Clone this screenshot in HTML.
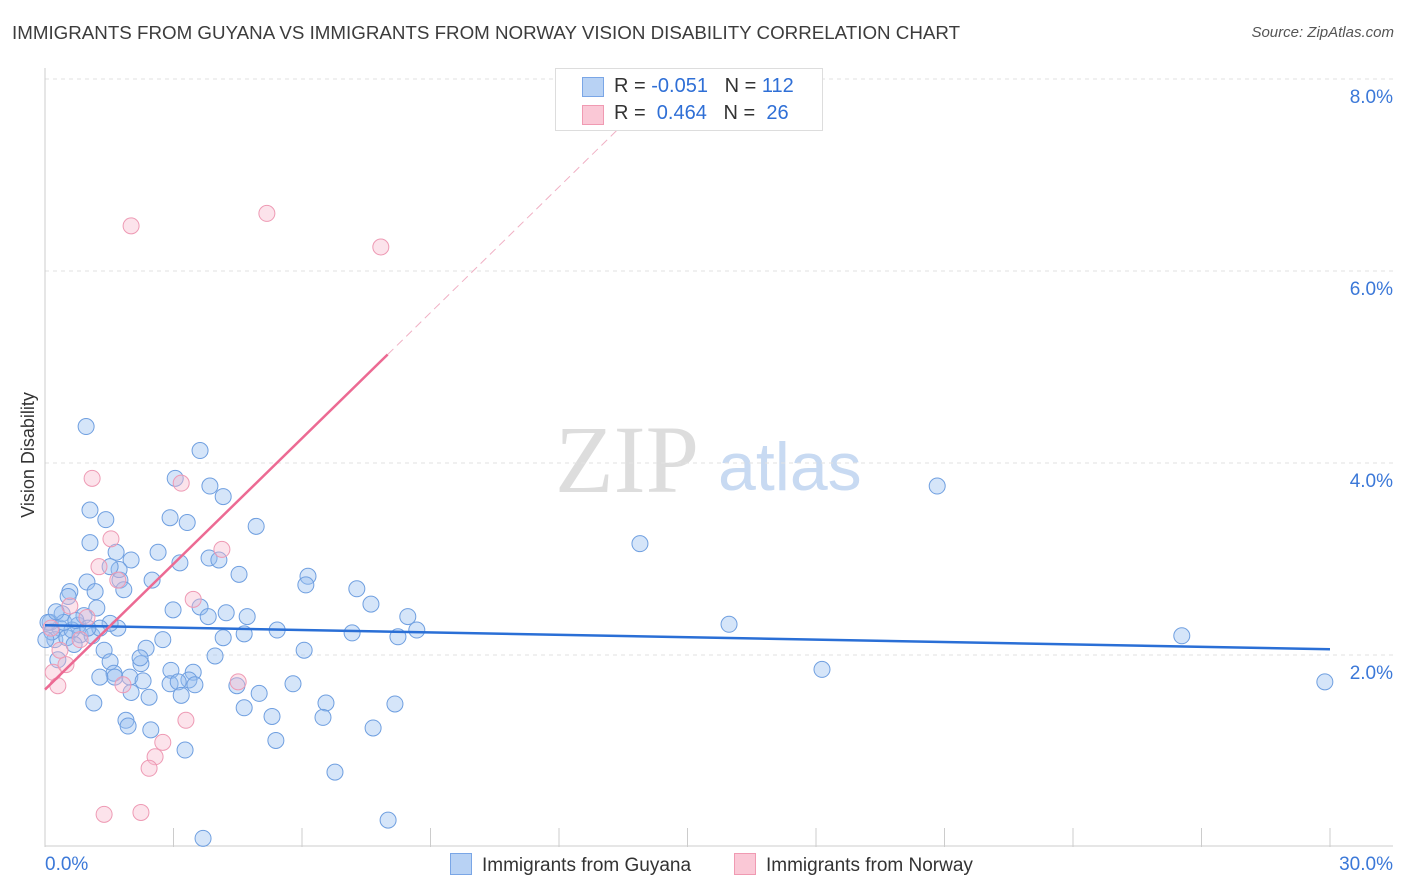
<!DOCTYPE html>
<html><head><meta charset="utf-8"><style>
body{margin:0;width:1406px;height:892px;background:#fff;font-family:"Liberation Sans",sans-serif;overflow:hidden;position:relative}
.t{position:absolute;white-space:nowrap}
</style></head><body>
<div class="t" style="left:12px;top:22px;font-size:18.75px;color:#3c3c3c">IMMIGRANTS FROM GUYANA VS IMMIGRANTS FROM NORWAY VISION DISABILITY CORRELATION CHART</div>
<div class="t" style="right:12px;top:24px;font-size:15px;color:#555;font-style:italic">Source: ZipAtlas.com</div>
<svg id="chart" width="1406" height="892" style="position:absolute;left:0;top:0">
<text x="555" y="492" font-size="96" fill="#ddd" font-family="Liberation Serif">ZIP</text>
<text x="718" y="490" font-size="68" fill="#c8daf2">atlas</text>
<text transform="translate(34,455) rotate(-90)" text-anchor="middle" font-size="18" fill="#333">Vision Disability</text>
<g id="grid"></g><g id="pts"></g><g id="trend"></g>
</svg>
<div class="t" style="left:555px;top:68px;width:266px;height:61px;border:1px solid #ddd;background:#fff;font-size:20px;color:#333">
<div style="position:absolute;left:26px;top:8px;width:20px;height:18px;background:#b8d2f4;border:1px solid #7aa6e6"></div>
<div style="position:absolute;left:58px;top:6px">R = <span style="color:#2f6fd6">-0.051</span>&nbsp;&nbsp;&nbsp;N = <span style="color:#2f6fd6">112</span></div>
<div style="position:absolute;left:26px;top:36px;width:20px;height:18px;background:#fac8d6;border:1px solid #f09ab2"></div>
<div style="position:absolute;left:58px;top:33px">R = &nbsp;<span style="color:#2f6fd6">0.464</span>&nbsp;&nbsp;&nbsp;N = &nbsp;<span style="color:#2f6fd6">26</span></div>
</div>
<div class="t" style="left:450px;top:853px;font-size:19px;color:#333"><span style="display:inline-block;width:20px;height:20px;background:#b8d2f4;border:1px solid #7aa6e6;vertical-align:-4px;margin-right:10px"></span>Immigrants from Guyana</div>
<div class="t" style="left:734px;top:853px;font-size:19px;color:#333"><span style="display:inline-block;width:20px;height:20px;background:#fac8d6;border:1px solid #f09ab2;vertical-align:-4px;margin-right:10px"></span>Immigrants from Norway</div>
<script>
const blueX=[],blueY=[],pinkX=[],pinkY=[];
const bluePx=[[86,427],[200,451],[90,510],[106,520],[175,478],[210,486],[223,497],[170,518],[187,523],[256,526],[90,543],[116,552],[131,560],[158,552],[209,558],[219,560],[180,563],[239,574],[152,580],[308,576],[306,585],[357,589],[371,604],[408,617],[417,630],[398,637],[352,633],[70,592],[87,582],[95,592],[97,608],[120,580],[124,590],[119,570],[110,567],[200,607],[208,617],[173,610],[226,613],[247,617],[244,634],[277,630],[223,638],[118,628],[110,623],[60,628],[50,622],[55,640],[67,638],[80,635],[78,625],[74,644],[104,650],[110,662],[114,673],[141,664],[146,648],[163,640],[140,658],[171,670],[193,672],[215,656],[304,650],[115,677],[130,677],[100,677],[143,681],[170,684],[189,680],[195,685],[178,682],[237,686],[259,693],[293,684],[131,692],[149,697],[181,695],[244,708],[272,716],[326,703],[323,717],[395,704],[94,703],[126,720],[128,726],[151,730],[185,750],[276,740],[373,728],[335,772],[388,820],[203,838],[640,544],[937,486],[729,624],[822,669],[1182,636],[1325,682],[48,622],[52,632],[62,614],[68,596],[58,660],[84,616],[72,630],[92,636],[46,640],[64,622],[100,628],[56,612],[76,620],[88,628]];
const pinkPx=[[131,226],[267,213],[381,247],[92,478],[181,483],[222,549],[111,539],[99,567],[118,580],[70,606],[87,618],[193,599],[53,672],[58,686],[66,665],[123,685],[238,682],[186,720],[163,742],[155,757],[149,768],[104,814],[141,812],[51,628],[80,640],[60,650]];
bluePx.forEach(p=>{blueX.push(+((p[0]-45)/42.833).toFixed(2));blueY.push(+((847-p[1])/96).toFixed(2));});
pinkPx.forEach(p=>{pinkX.push(+((p[0]-45)/42.833).toFixed(2));pinkY.push(+((847-p[1])/96).toFixed(2));});
const xTicks=[0,3,6,9,12,15,18,21,24,27,30];
const yTicks=[2,4,6,8];
const sx=v=>45+v*42.833, sy=v=>847-v*96;
const NS="http://www.w3.org/2000/svg";
function mk(tag,attrs,parent){const e=document.createElementNS(NS,tag);for(const k in attrs)e.setAttribute(k,attrs[k]);parent.appendChild(e);return e;}
const svg=document.getElementById('chart'),grid=document.getElementById('grid'),pts=document.getElementById('pts'),tr=document.getElementById('trend');
yTicks.forEach(v=>{
 const l=mk('line',{x1:45,x2:1393,y1:sy(v),y2:sy(v),stroke:'#e2e2e2','stroke-dasharray':'4,4'},grid);
 
 
 const t=mk('text',{x:1393,y:sy(v)+24,'text-anchor':'end','font-size':19,fill:'#3b78d8'},grid);t.textContent=v.toFixed(1)+'%';
 
 
});
const ax=mk('line',{x1:45,x2:45,y1:68,y2:847,stroke:'#ccc'},grid);


const bx=mk('line',{x1:45,x2:1393,y1:846,y2:846,stroke:'#ccc'},grid);


xTicks.forEach(v=>{
 const l=mk('line',{x1:sx(v),x2:sx(v),y1:828,y2:847,stroke:'#ccc'},grid);
 
 
});
[[0,'start'],[30,'end']].forEach(([v,a])=>{
 const t=mk('text',{x:sx(v)+(a=='end'?63:0),y:870,'text-anchor':a,'font-size':19,fill:'#3b78d8'},grid);t.textContent=v.toFixed(1)+'%';
 
 
});
blueX.forEach((x,i)=>{
 const c=mk('circle',{cx:sx(x),cy:sy(blueY[i]),r:8,fill:'rgba(150,190,240,0.4)',stroke:'#6f9fe0','stroke-width':1},pts);
 
 
});
pinkX.forEach((x,i)=>{
 const c=mk('circle',{cx:sx(x),cy:sy(pinkY[i]),r:8,fill:'rgba(248,185,205,0.4)',stroke:'#ee9ab4','stroke-width':1},pts);
 
 
});
const b=mk('line',{x1:sx(0),y1:sy(2.31),x2:sx(30),y2:sy(2.06),stroke:'#2a6fd6','stroke-width':2.5},tr);


const p=mk('line',{x1:sx(0),y1:sy(1.64),x2:sx(8),y2:sy(5.13),stroke:'#ec6a93','stroke-width':2.5},tr);


const pd=mk('line',{x1:sx(8),y1:sy(5.13),x2:sx(13.5),y2:sy(7.53),stroke:'#f0b0c4','stroke-width':1,'stroke-dasharray':'8,5'},tr);


</script>
</body></html>
